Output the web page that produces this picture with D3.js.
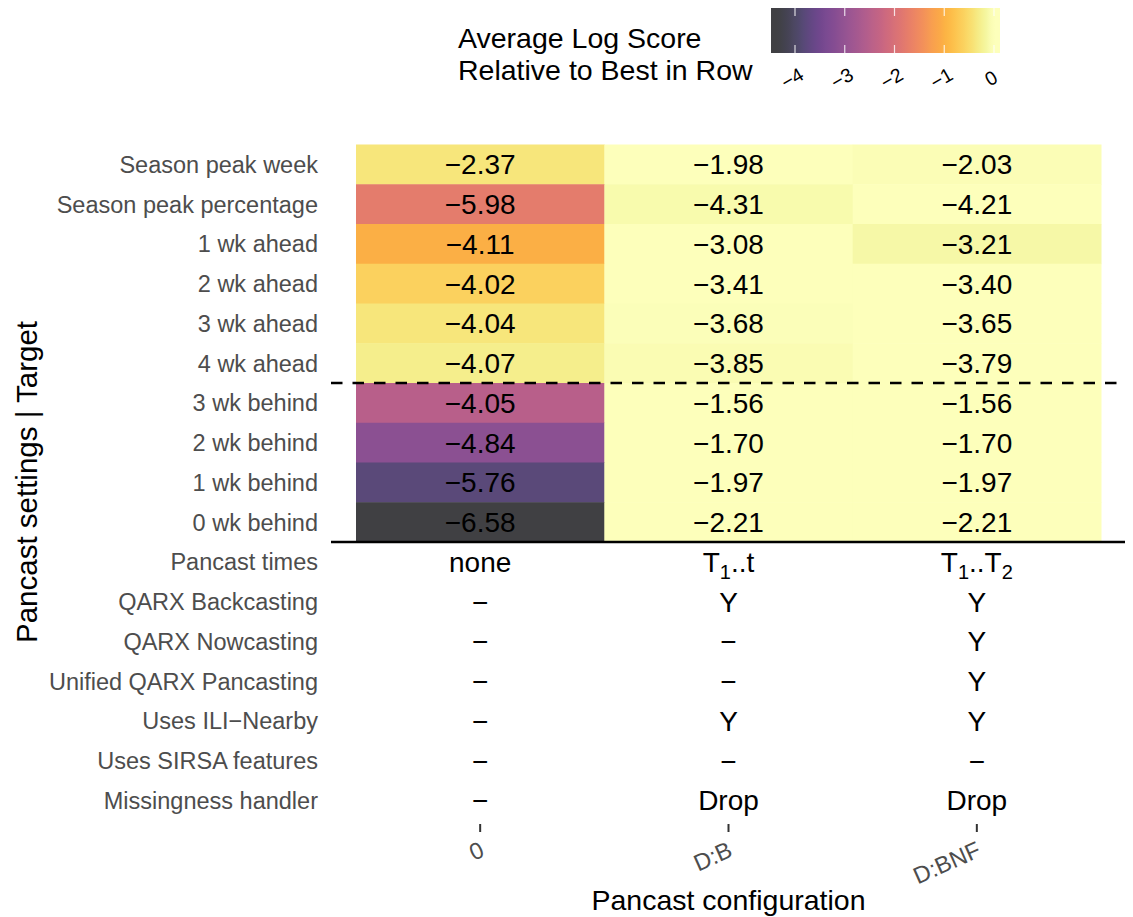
<!DOCTYPE html>
<html>
<head>
<meta charset="utf-8">
<script src="https://cdn.jsdelivr.net/npm/d3@7"></script>
<style>
  body { margin: 0; background: #fff; }
  svg text { font-family: "Liberation Sans", Arial, sans-serif; }
</style>
</head>
<body>
<svg id="chart"></svg>
<script>
// pancast configurations (columns)
const configs = ["0", "D:B", "D:BNF"];

// heatmap targets (top rows)
const targets = ["Season peak week", "Season peak percentage", "1 wk ahead", "2 wk ahead",
  "3 wk ahead", "4 wk ahead", "3 wk behind", "2 wk behind", "1 wk behind", "0 wk behind"];

// average log score per configuration
const scoreNone = [-2.37, -5.98, -4.11, -4.02, -4.04, -4.07, -4.05, -4.84, -5.76, -6.58];
const scoreDB   = [-1.98, -4.31, -3.08, -3.41, -3.68, -3.85, -1.56, -1.70, -1.97, -2.21];
const scoreDBNF = [-2.03, -4.21, -3.21, -3.40, -3.65, -3.79, -1.56, -1.70, -1.97, -2.21];

// settings table (bottom rows)
const settingRows = ["Pancast times", "QARX Backcasting", "QARX Nowcasting", "Unified QARX Pancasting",
  "Uses ILI\u2212Nearby", "Uses SIRSA features", "Missingness handler"];
const settingsNone = ["none", "\u2212", "\u2212", "\u2212", "\u2212", "\u2212", "\u2212"];
const settingsDB   = ["T_1..t", "Y", "\u2212", "\u2212", "Y", "\u2212", "Drop"];
const settingsDBNF = ["T_1..T_2", "Y", "Y", "Y", "Y", "\u2212", "Drop"];

const legendTicks = [-4, -3, -2, -1, 0];

const fmt = v => d3.format(".2f")(v).replace("-", "\u2212");

const W = 1133, H = 917;
const svg = d3.select("#chart").attr("width", W).attr("height", H);

const scores = [scoreNone, scoreDB, scoreDBNF];
const cells = [];
targets.forEach((t, i) => {
  const best = d3.max(scores, s => s[i]);
  configs.forEach((c, j) => {
    cells.push({ target: t, config: c, value: scores[j][i], rel: scores[j][i] - best });
  });
});
const settings = [settingsNone, settingsDB, settingsDBNF];
const tableCells = [];
settingRows.forEach((r, i) => {
  configs.forEach((c, j) => tableCells.push({ row: r, config: c, text: settings[j][i] }));
});

const relMin = d3.min(cells, d => d.rel);
const tScale = d3.scaleLinear().domain([relMin, 0]).range([0, 1]).clamp(true);
const fill = v => d3.interpolateRgb("#ffffff", d3.interpolateInferno(tScale(v)))(0.75);

const x = d3.scaleBand().domain(configs).range([356, 1101]);
const y = d3.scaleBand().domain(targets.concat(settingRows)).range([144.5, 820.25]);

// tiles
svg.append("g").selectAll("rect")
  .data(cells)
  .join("rect")
  .attr("x", d => x(d.config))
  .attr("y", d => y(d.target))
  .attr("width", x.bandwidth() + 0.5)
  .attr("height", y.bandwidth() + 0.5)
  .attr("fill", d => fill(d.rel));

svg.append("g").selectAll("text")
  .data(cells)
  .join("text")
  .attr("x", d => x(d.config) + x.bandwidth() / 2)
  .attr("y", d => y(d.target) + y.bandwidth() / 2)
  .attr("dy", "0.36em")
  .attr("text-anchor", "middle")
  .attr("font-size", 28)
  .attr("fill", "#000")
  .text(d => fmt(d.value));

// settings table text, "_n" becomes a subscript
const tt = svg.append("g").selectAll("text")
  .data(tableCells)
  .join("text")
  .attr("x", d => x(d.config) + x.bandwidth() / 2)
  .attr("y", d => y(d.row) + y.bandwidth() / 2)
  .attr("dy", "0.36em")
  .attr("text-anchor", "middle")
  .attr("font-size", 28)
  .attr("fill", "#000");
tt.each(function(d) {
  const el = d3.select(this);
  const parts = d.text.split(/_(\d)/);
  parts.forEach((p, k) => {
    if (!p) return;
    if (k % 2 === 1) {
      el.append("tspan").attr("font-size", 20).attr("dy", 7).text(p);
    } else {
      const ts = el.append("tspan").text(p);
      if (k > 0) ts.attr("dy", -7);
    }
  });
});

// separator lines
svg.append("line")
  .attr("x1", 331).attr("x2", 1125)
  .attr("y1", y(targets[6])).attr("y2", y(targets[6]))
  .attr("stroke", "#000").attr("stroke-width", 2.5)
  .attr("stroke-dasharray", "11.5,10");
svg.append("line")
  .attr("x1", 331).attr("x2", 1125)
  .attr("y1", y(settingRows[0])).attr("y2", y(settingRows[0]))
  .attr("stroke", "#000").attr("stroke-width", 2.5);

// y axis labels
svg.append("g").selectAll("text")
  .data(y.domain())
  .join("text")
  .attr("x", 318)
  .attr("y", d => y(d) + y.bandwidth() / 2)
  .attr("dy", "0.36em")
  .attr("text-anchor", "end")
  .attr("font-size", 23.5)
  .attr("fill", "#4d4d4d")
  .text(d => d);

svg.append("text")
  .attr("transform", "translate(37,482) rotate(-90)")
  .attr("text-anchor", "middle")
  .attr("font-size", 29.5)
  .text("Pancast settings | Target");

// x axis
const xAxisG = svg.append("g");
xAxisG.selectAll("line")
  .data(configs)
  .join("line")
  .attr("x1", d => x(d) + x.bandwidth() / 2)
  .attr("x2", d => x(d) + x.bandwidth() / 2)
  .attr("y1", 824).attr("y2", 832)
  .attr("stroke", "#333").attr("stroke-width", 2);
xAxisG.selectAll("text")
  .data(configs)
  .join("text")
  .attr("transform", d => `translate(${x(d) + x.bandwidth() / 2 + 2},848) rotate(-24)`)
  .attr("dy", "0.36em")
  .attr("text-anchor", "end")
  .attr("font-size", 23.5)
  .attr("fill", "#4d4d4d")
  .text(d => d);

svg.append("text")
  .attr("x", x.range()[0] + (x.range()[1] - x.range()[0]) / 2)
  .attr("y", 910)
  .attr("text-anchor", "middle")
  .attr("font-size", 28.5)
  .text("Pancast configuration");

// legend
const lx = d3.scaleLinear().domain([-4, 0]).range([795, 994]);
const lg = svg.append("g");
const defs = svg.append("defs");
const grad = defs.append("linearGradient").attr("id", "lgrad");
const l0 = lx.invert(771), l1 = lx.invert(1000);
d3.range(0, 1.0001, 0.02).forEach(p => {
  grad.append("stop")
    .attr("offset", p)
    .attr("stop-color", fill(l0 + p * (l1 - l0)));
});
lg.append("rect")
  .attr("x", 771).attr("y", 8)
  .attr("width", 229).attr("height", 45)
  .attr("fill", "url(#lgrad)");
legendTicks.forEach(v => {
  lg.append("line").attr("x1", lx(v)).attr("x2", lx(v)).attr("y1", 8).attr("y2", 16)
    .attr("stroke", "#fff").attr("stroke-width", 1.2).attr("stroke-opacity", 0.8);
  lg.append("line").attr("x1", lx(v)).attr("x2", lx(v)).attr("y1", 45).attr("y2", 53)
    .attr("stroke", "#fff").attr("stroke-width", 1.2).attr("stroke-opacity", 0.8);
});
lg.selectAll("text.tick")
  .data(legendTicks)
  .join("text")
  .attr("class", "tick")
  .attr("transform", d => `translate(${lx(d) - 3},78) rotate(-30)`)
  .attr("dy", "0.36em")
  .attr("text-anchor", "middle")
  .attr("font-size", 19.5)
  .text(d => d === 0 ? "0" : "\u2212" + Math.abs(d));

lg.append("text").attr("x", 458).attr("y", 48).attr("font-size", 28.5).text("Average Log Score");
lg.append("text").attr("x", 458).attr("y", 80).attr("font-size", 28.5).text("Relative to Best in Row");
</script>
</body>
</html>
